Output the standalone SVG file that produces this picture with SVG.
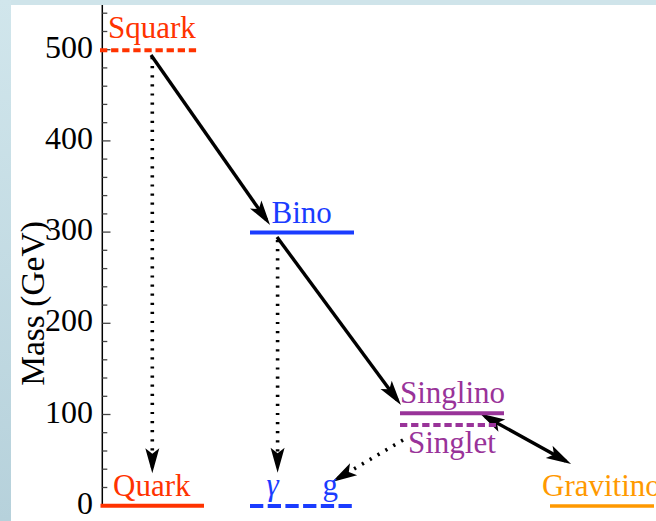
<svg xmlns="http://www.w3.org/2000/svg" width="656" height="521" viewBox="0 0 656 521">
<style>
text{font-family:"Liberation Serif","Times New Roman",serif}
.tl{font-size:32px;fill:#000;text-anchor:end}
.lab{font-size:31px}
.mj{stroke:#444;stroke-width:1.3}
.mn{stroke:#444;stroke-width:1.3}
.sol{stroke:#000;stroke-width:3.4;fill:none}
.dot{stroke:#000;stroke-width:3.6;stroke-dasharray:2.2 6.9;fill:none}
</style>
<defs>
<linearGradient id="bg" x1="0" y1="0" x2="0" y2="1">
<stop offset="0" stop-color="#d1e6ec"/>
<stop offset="1" stop-color="#b6d1db"/>
</linearGradient>
<marker id="ah" markerUnits="userSpaceOnUse" viewBox="-27 -9 29 18" markerWidth="29" markerHeight="18" refX="-6" refY="0" orient="auto-start-reverse">
<path d="M0,0 L-25,-7 L-19.5,0 L-25,7 Z" fill="#000" stroke="none"/>
</marker>
</defs>
<rect x="0" y="0" width="656" height="521" fill="#cfe4ea"/>
<rect x="0" y="0" width="11" height="521" fill="url(#bg)"/>
<rect x="11" y="5" width="645" height="516" fill="#fff"/>

<g id="axis">
<line x1="102.3" y1="5" x2="102.3" y2="506.5" stroke="#000" stroke-width="1.5"/>
<g class="mj">
<line x1="102.3" y1="505.7" x2="110.5" y2="505.7"/>
<line x1="102.3" y1="414.5" x2="110.5" y2="414.5"/>
<line x1="102.3" y1="323.3" x2="110.5" y2="323.3"/>
<line x1="102.3" y1="232.1" x2="110.5" y2="232.1"/>
<line x1="102.3" y1="140.9" x2="110.5" y2="140.9"/>
<line x1="102.3" y1="49.7" x2="110.5" y2="49.7"/>
</g>
<g class="mn">
<line x1="102.3" y1="487.5" x2="107.3" y2="487.5"/>
<line x1="102.3" y1="469.2" x2="107.3" y2="469.2"/>
<line x1="102.3" y1="451.0" x2="107.3" y2="451.0"/>
<line x1="102.3" y1="432.7" x2="107.3" y2="432.7"/>
<line x1="102.3" y1="396.3" x2="107.3" y2="396.3"/>
<line x1="102.3" y1="378.0" x2="107.3" y2="378.0"/>
<line x1="102.3" y1="359.8" x2="107.3" y2="359.8"/>
<line x1="102.3" y1="341.5" x2="107.3" y2="341.5"/>
<line x1="102.3" y1="305.1" x2="107.3" y2="305.1"/>
<line x1="102.3" y1="286.8" x2="107.3" y2="286.8"/>
<line x1="102.3" y1="268.6" x2="107.3" y2="268.6"/>
<line x1="102.3" y1="250.3" x2="107.3" y2="250.3"/>
<line x1="102.3" y1="213.9" x2="107.3" y2="213.9"/>
<line x1="102.3" y1="195.6" x2="107.3" y2="195.6"/>
<line x1="102.3" y1="177.4" x2="107.3" y2="177.4"/>
<line x1="102.3" y1="159.1" x2="107.3" y2="159.1"/>
<line x1="102.3" y1="122.7" x2="107.3" y2="122.7"/>
<line x1="102.3" y1="104.4" x2="107.3" y2="104.4"/>
<line x1="102.3" y1="86.2" x2="107.3" y2="86.2"/>
<line x1="102.3" y1="67.9" x2="107.3" y2="67.9"/>
<line x1="102.3" y1="31.5" x2="107.3" y2="31.5"/>
<line x1="102.3" y1="13.2" x2="107.3" y2="13.2"/>
</g>
<text class="tl" x="93" y="513.7">0</text>
<text class="tl" x="93" y="422.5">100</text>
<text class="tl" x="93" y="331.3">200</text>
<text class="tl" x="93" y="240.1">300</text>
<text class="tl" x="93" y="148.9">400</text>
<text class="tl" x="93" y="57.7">500</text>
<text x="0" y="0" font-size="33.5" text-anchor="middle" transform="translate(43.5,303.5) rotate(-90)">Mass (GeV)</text>
</g>

<g id="connectors">
<line class="sol" x1="151" y1="55" x2="266.6" y2="220.1" marker-end="url(#ah)"/>
<line class="sol" x1="277" y1="237" x2="397.4" y2="400.2" marker-end="url(#ah)"/>
<line class="sol" x1="485.2" y1="416.4" x2="565.8" y2="461.1" marker-start="url(#ah)" marker-end="url(#ah)"/>
<line class="dot" x1="152.3" y1="57" x2="152.3" y2="467.3" marker-end="url(#ah)"/>
<line class="dot" x1="277.6" y1="240" x2="277.6" y2="466.8" marker-end="url(#ah)"/>
<line class="dot" x1="403" y1="440" x2="337.2" y2="478.9" marker-end="url(#ah)"/>
</g>

<g id="squark">
<line x1="100" y1="50.2" x2="197" y2="50.2" stroke="#ff3300" stroke-width="4" stroke-dasharray="7.3 3.8"/>
<text class="lab" x="108" y="38" fill="#ff3300">Squark</text>
</g>
<g id="quark">
<line x1="100.5" y1="505.7" x2="204" y2="505.7" stroke="#ff3300" stroke-width="4"/>
<text class="lab" x="113" y="496" fill="#ff3300">Quark</text>
</g>
<g id="bino">
<line x1="250" y1="232.6" x2="354" y2="232.6" stroke="#1a3cff" stroke-width="4"/>
<text class="lab" x="271.5" y="223" fill="#1a3cff">Bino</text>
</g>
<g id="photon-gluon">
<line x1="250" y1="506" x2="353" y2="506" stroke="#1a3cff" stroke-width="4" stroke-dasharray="13.3 4.4"/>
<text class="lab" x="266.5" y="495" fill="#1a3cff" font-style="italic">γ</text>
<text class="lab" x="322.5" y="495" fill="#1a3cff">g</text>
</g>
<g id="singlino">
<line x1="400" y1="413.3" x2="504" y2="413.3" stroke="#993399" stroke-width="4"/>
<text class="lab" x="400" y="403" fill="#993399">Singlino</text>
</g>
<g id="singlet">
<line x1="400" y1="425" x2="496" y2="425" stroke="#993399" stroke-width="4" stroke-dasharray="7.3 3.8"/>
<text class="lab" x="408" y="452.7" fill="#993399">Singlet</text>
</g>
<g id="gravitino">
<line x1="550" y1="506" x2="654" y2="506" stroke="#ff9900" stroke-width="3.5"/>
<text class="lab" x="542" y="496" fill="#ff9900">Gravitino</text>
</g>
</svg>
